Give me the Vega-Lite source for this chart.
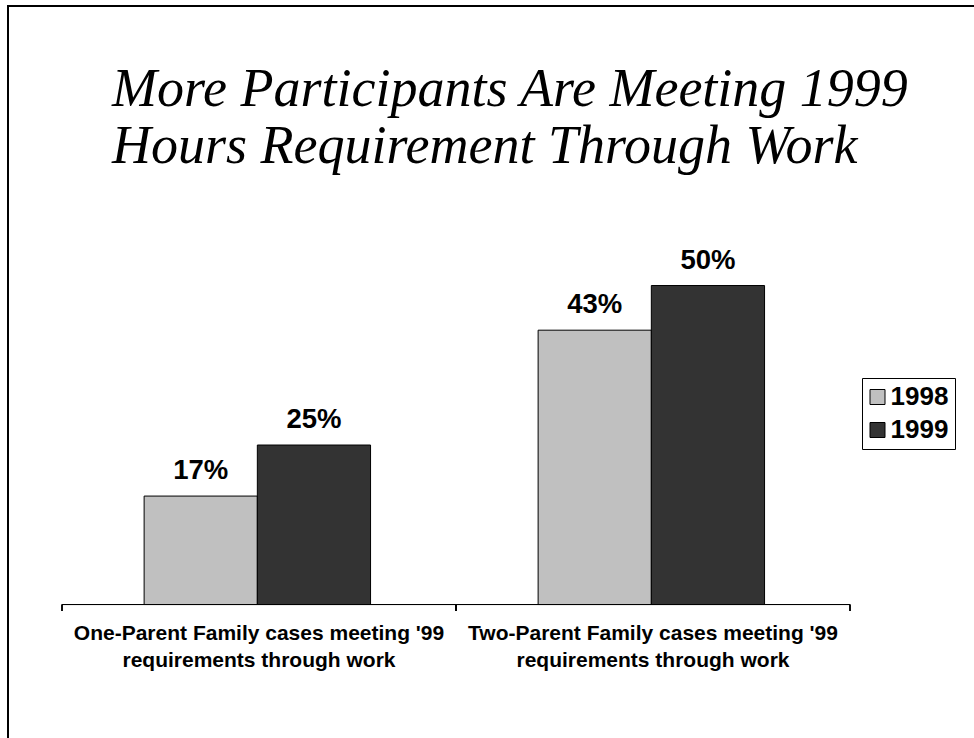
{
  "$schema": "https://vega.github.io/schema/vega-lite/v6.json",
  "width": 966,
  "height": 732,
  "autosize": {"type": "none"},
  "padding": {"left": 8, "top": 6, "right": 0, "bottom": 0},
  "background": "white",
  "config": {
    "font": "Liberation Sans",
    "view": {"stroke": "black", "strokeWidth": 2, "strokeDash": [966, 1698, 732]},
    "legend": {
      "orient": "none",
      "legendX": 854,
      "legendY": 372,
      "title": null,
      "strokeColor": "black",
      "strokeWidth": 1,
      "fillColor": "white",
      "padding": 6,
      "rowPadding": 7,
      "labelOffset": 0,
      "symbolOffset": -3.5,
      "labelFont": "Liberation Sans",
      "labelFontSize": 26,
      "labelFontWeight": "bold",
      "labelColor": "black",
      "symbolType": "square",
      "symbolSize": 225,
      "symbolStrokeColor": "black",
      "symbolStrokeWidth": 1,
      "symbolOpacity": 1
    }
  },
  "title": {
    "text": ["More Participants Are Meeting 1999", "Hours Requirement Through Work"],
    "font": "Liberation Serif",
    "fontStyle": "italic",
    "fontWeight": "normal",
    "fontSize": 54,
    "lineHeight": 57,
    "color": "black",
    "anchor": "start",
    "align": "left",
    "offset": -168,
    "dx": 104
  },
  "data": {
    "values": [
      {"group": "One-Parent Family cases meeting '99 requirements through work", "year": "1998", "share": 0.17},
      {"group": "One-Parent Family cases meeting '99 requirements through work", "year": "1999", "share": 0.25},
      {"group": "Two-Parent Family cases meeting '99 requirements through work", "year": "1998", "share": 0.43},
      {"group": "Two-Parent Family cases meeting '99 requirements through work", "year": "1999", "share": 0.50}
    ]
  },
  "encoding": {
    "x": {
      "field": "group",
      "type": "nominal",
      "sort": null,
      "scale": {"paddingInner": 0, "paddingOuter": 0.22589, "align": 0.3034},
      "axis": {
        "orient": "bottom",
        "offset": -133.5,
        "title": null,
        "domain": false,
        "ticks": false,
        "labelAngle": 0,
        "labelFont": "Liberation Sans",
        "labelFontSize": 21,
        "labelFontWeight": "bold",
        "labelColor": "black",
        "labelPadding": 18,
        "labelLineHeight": 27,
        "labelLimit": 0,
        "labelExpr": "[replace(datum.label, ' requirements through work', ''), 'requirements through work']"
      }
    }
  },
  "layer": [
    {
      "mark": {"type": "bar", "stroke": "black", "strokeWidth": 1},
      "encoding": {
        "xOffset": {"field": "year", "type": "nominal", "scale": {"paddingInner": 0, "paddingOuter": 0.74, "align": 0.49}},
        "y": {"field": "share", "type": "quantitative", "scale": {"domain": [-0.2092, 0.9381], "nice": false, "zero": false}, "axis": null},
        "y2": {"datum": 0},
        "color": {"field": "year", "type": "nominal", "scale": {"domain": ["1998", "1999"], "range": ["#c0c0c0", "#333333"]}}
      }
    },
    {
      "mark": {"type": "text", "fontSize": 27.5, "fontWeight": "bold", "baseline": "alphabetic", "dy": -17, "color": "black"},
      "encoding": {
        "xOffset": {"field": "year", "type": "nominal"},
        "y": {"field": "share", "type": "quantitative"},
        "text": {"field": "share", "type": "quantitative", "format": ".0%"}
      }
    },
    {
      "mark": {"type": "bar", "fill": null, "fillOpacity": 0, "stroke": "black", "strokeWidth": 1},
      "encoding": {
        "y": {"datum": 0},
        "y2": {"datum": 0}
      }
    },
    {
      "mark": {"type": "rule", "color": "black", "strokeWidth": 1.5},
      "encoding": {
        "x": {"field": "group", "type": "nominal", "sort": null, "bandPosition": 0},
        "y": {"datum": 0},
        "y2": {"datum": -0.01}
      }
    },
    {
      "mark": {"type": "rule", "color": "black", "strokeWidth": 1.5},
      "encoding": {
        "x": {"field": "group", "type": "nominal", "sort": null, "bandPosition": 1},
        "y": {"datum": 0},
        "y2": {"datum": -0.01}
      }
    }
  ]
}
